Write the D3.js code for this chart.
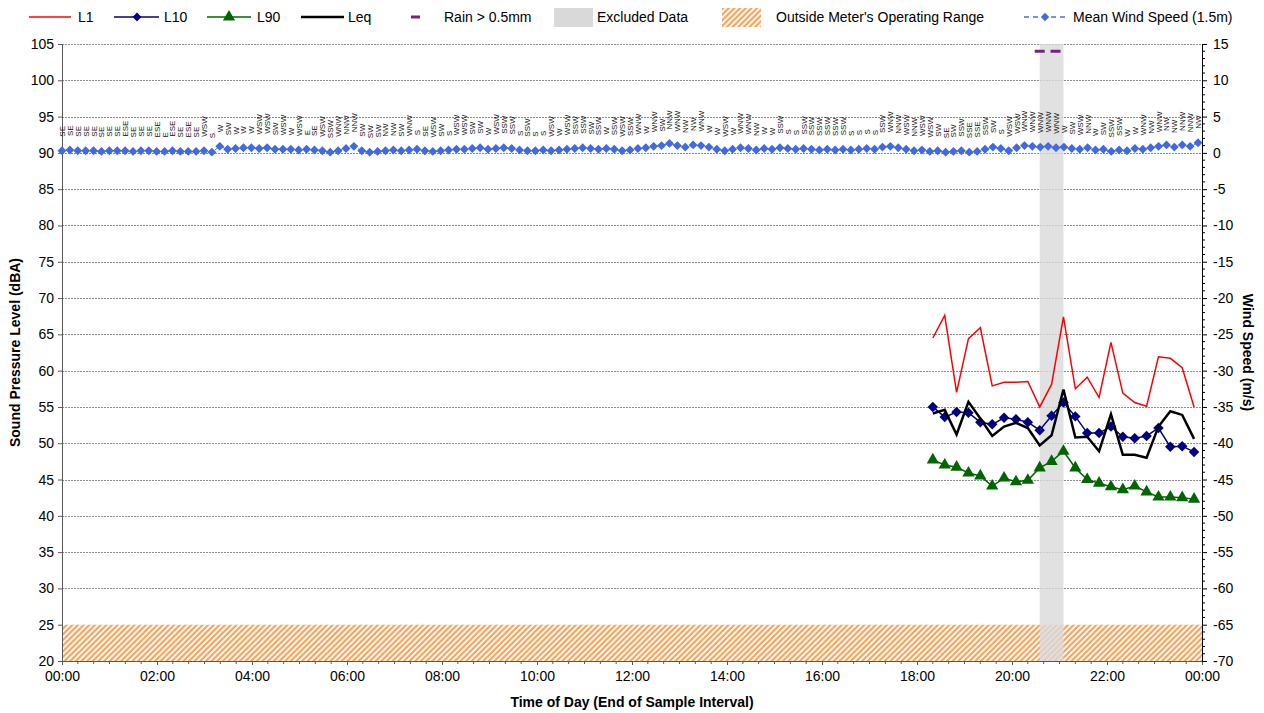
<!DOCTYPE html>
<html>
<head>
<meta charset="utf-8">
<script src="https://cdnjs.cloudflare.com/ajax/libs/d3/7.8.5/d3.min.js"></script>
<style>
  body { margin: 0; background: #fff; }
  svg { font-family: "Liberation Sans", Arial, sans-serif; }
  .tick text { font-size: 14px; fill: #000; }
</style>
</head>
<body>
<svg id="chart" width="1264" height="713"></svg>
<script>
// noise data, 15 min samples (end of interval)
var noiseTimes = ["18:20", "18:35", "18:50", "19:05", "19:20", "19:35", "19:50", "20:05",
    "20:20", "20:35", "20:50", "21:05", "21:20", "21:35", "21:50", "22:05", "22:20",
    "22:35", "22:50", "23:05", "23:20", "23:35", "23:50"];
var l1 = [64.5, 67.6, 57.0, 64.4, 65.9, 57.9, 58.4, 58.4, 58.5, 55.0, 58.1, 67.4,
    57.5, 59.1, 56.3, 63.9, 56.9, 55.6, 55.1, 61.9, 61.7, 60.4, 55.0];
var l10 = [55.0, 53.6, 54.3, 54.2, 52.9, 52.6, 53.5, 53.3, 52.9, 51.8, 53.8, 55.6,
    53.7, 51.4, 51.4, 52.3, 50.9, 50.7, 51.0, 52.1, 49.5, 49.6, 48.8];
var l90 = [47.7, 47.0, 46.7, 45.9, 45.5, 44.1, 45.2, 44.7, 44.9, 46.6, 47.5, 48.9,
    46.6, 45.0, 44.5, 44.0, 43.6, 44.1, 43.3, 42.6, 42.6, 42.5, 42.3];
var leq = [54.1, 54.6, 51.2, 55.7, 53.4, 51.0, 52.3, 52.8, 52.1, 49.7, 51.1, 57.4,
    50.8, 50.9, 48.9, 54.0, 48.4, 48.4, 48.0, 52.3, 54.4, 53.9, 50.6];

// wind, 10 min samples from 00:00 to 23:50
var windSpeed = [
    0.3, 0.4, 0.3, 0.3, 0.3, 0.2, 0.3, 0.3, 0.3, 0.2, 0.3, 0.3, 0.2, 0.2, 0.3, 0.2, 0.2, 0.2, 0.3, 0.1,
    0.9, 0.5, 0.6, 0.7, 0.7, 0.6, 0.7, 0.5, 0.5, 0.5, 0.4, 0.5, 0.4, 0.3, 0.1, 0.3, 0.6,
    0.9, 0.3, 0.1, 0.2, 0.3, 0.4, 0.3, 0.4, 0.5, 0.3, 0.2, 0.3, 0.4, 0.5,
    0.5, 0.6, 0.7, 0.5, 0.6, 0.7, 0.6, 0.4, 0.3, 0.3, 0.4, 0.3, 0.4, 0.5, 0.6, 0.7, 0.6, 0.5, 0.6, 0.5, 0.3,
    0.4, 0.6, 0.7, 0.9, 1.0, 1.3, 1.0, 0.8, 1.1, 1.0, 0.8, 0.5, 0.3, 0.5, 0.7, 0.6, 0.4, 0.6, 0.5,
    0.7, 0.6, 0.5, 0.6, 0.5, 0.4, 0.5, 0.4, 0.5, 0.4, 0.5, 0.6, 0.5, 0.8, 0.9, 0.7, 0.5, 0.3,
    0.4, 0.2, 0.3, 0.1, 0.2, 0.3, 0.1, 0.2, 0.5, 0.8, 0.6, 0.3, 0.7,
    1.0, 0.9, 0.8, 0.9, 0.7, 0.8, 0.6, 0.5, 0.7, 0.4, 0.5, 0.2, 0.4, 0.3, 0.6, 0.5, 0.7, 0.9, 1.1, 0.8, 1.1, 0.9, 1.4];
var windDir = [
    "SE", "SE", "SE", "SE", "SE", "SE", "SE", "SE", "ESE", "SE", "SE", "SE", "ESE", "E", "ESE", "SE", "ESE", "SE", "WSW", "S",
    "W", "SW", "W", "W", "W", "WSW", "WSW", "SW", "WSW", "W", "WSW", "E", "SE", "WSW", "SSW", "WNW", "NNW",
    "NNW", "SW", "SW", "SW", "NW", "NW", "SW", "WNW", "S", "SE", "WSW", "SW", "S", "WSW",
    "WSW", "SW", "SW", "W", "WSW", "SSW", "SSW", "S", "SSW", "S", "S", "WSW", "W", "WSW", "SSW", "SSW", "SW", "SSW", "W", "SSW", "WSW",
    "SSW", "WNW", "W", "WNW", "SW", "NNW", "WNW", "NW", "NW", "WNW", "W", "W", "WSW", "W", "WNW", "WNW", "NW", "W", "W",
    "SSW", "S", "S", "SSW", "SSW", "SSW", "SSW", "SSW", "SSW", "S", "S", "S", "S", "SSW", "WNW", "NNW", "WSW", "NNW",
    "WSW", "WSW", "SW", "SE", "SW", "SSW", "SSE", "SSE", "SSW", "SW", "S", "WSW", "WSW",
    "WNW", "WNW", "WNW", "WNW", "WNW", "W", "SW", "WSW", "NNW", "W", "SW", "SSW", "SSW", "W", "W", "WNW", "NW", "WNW", "NW", "NW", "NNW", "NNW", "NW"];

var rainTimes = ["20:35", "20:55"];
var rainLevel = 104;
var excluded = ["20:35", "21:05"];
var operatingFloor = 25;

var xTicks = ["00:00", "02:00", "04:00", "06:00", "08:00", "10:00", "12:00",
    "14:00", "16:00", "18:00", "20:00", "22:00", "00:00"];

function toMin(s) {
    var p = s.split(":");
    return +p[0] * 60 + +p[1];
}

var svg = d3.select("#chart");
var pLeft = 62, pRight = 1202, pTop = 44, pBottom = 661;

var x = d3.scaleLinear().domain([0, 1440]).range([pLeft, pRight]);
var y = d3.scaleLinear().domain([20, 105]).range([pBottom, pTop]);
var yw = d3.scaleLinear().domain([-70, 15]).range([pBottom, pTop]);

var defs = svg.append("defs");
var pat = defs.append("pattern")
    .attr("id", "hatch")
    .attr("patternUnits", "userSpaceOnUse")
    .attr("width", 4).attr("height", 4)
    .attr("patternTransform", "rotate(45)");
pat.append("rect").attr("width", 4).attr("height", 4).attr("fill", "#fff");
pat.append("rect").attr("width", 2.2).attr("height", 4).attr("fill", "#f7a45c");

// grid
svg.append("g").selectAll("line")
    .data(d3.range(25, 106, 5))
    .enter().append("line")
    .attr("x1", pLeft).attr("x2", pRight)
    .attr("y1", function (d) { return Math.round(y(d)) + 0.5; })
    .attr("y2", function (d) { return Math.round(y(d)) + 0.5; })
    .attr("stroke", "#8c8c8c")
    .attr("stroke-width", 1)
    .attr("stroke-dasharray", "2,1");

// outside operating range
svg.append("rect")
    .attr("x", pLeft).attr("y", y(operatingFloor))
    .attr("width", pRight - pLeft).attr("height", y(20) - y(operatingFloor))
    .attr("fill", "url(#hatch)");

// excluded data band
svg.append("rect")
    .attr("x", x(toMin(excluded[0])))
    .attr("y", pTop)
    .attr("width", x(toMin(excluded[1])) - x(toMin(excluded[0])))
    .attr("height", pBottom - pTop)
    .attr("fill", "#d9d9d9")
    .attr("opacity", 0.8);

// axes
var xAxis = d3.axisBottom(x)
    .tickValues(d3.range(0, 1441, 120))
    .tickFormat(function (d, i) { return xTicks[i]; })
    .tickSize(4).tickPadding(6);
var gx = svg.append("g").attr("transform", "translate(0," + pBottom + ")").call(xAxis);
gx.select(".domain").attr("stroke", "#595959");
gx.selectAll(".tick line").attr("stroke", "#595959");
svg.append("g").selectAll("line")
    .data(d3.range(0, 1441, 20).filter(function (d) { return d % 120 != 0; }))
    .enter().append("line")
    .attr("x1", function (d) { return x(d); })
    .attr("x2", function (d) { return x(d); })
    .attr("y1", pBottom).attr("y2", pBottom + 3)
    .attr("stroke", "#595959");

var gy = svg.append("g").attr("transform", "translate(" + pLeft + ",0)")
    .call(d3.axisLeft(y).tickValues(d3.range(20, 106, 5)).tickSize(4).tickPadding(4));
gy.select(".domain").attr("stroke", "#595959");
gy.selectAll(".tick line").attr("stroke", "#595959");

var gr = svg.append("g").attr("transform", "translate(" + pRight + ",0)")
    .call(d3.axisRight(yw).tickValues(d3.range(-70, 16, 5)).tickSize(5).tickPadding(6)
        .tickFormat(function (d) { return String(d); }));
gr.select(".domain").attr("stroke", "#000");
svg.append("g").selectAll("line")
    .data(d3.range(-70, 16, 1).filter(function (d) { return d % 5 != 0; }))
    .enter().append("line")
    .attr("x1", pRight).attr("x2", pRight + 3)
    .attr("y1", function (d) { return yw(d); })
    .attr("y2", function (d) { return yw(d); })
    .attr("stroke", "#000");

// axis titles
svg.append("text")
    .attr("transform", "translate(20," + ((pTop + pBottom) / 2) + ") rotate(-90)")
    .attr("text-anchor", "middle")
    .style("font-size", "14px").style("font-weight", "bold")
    .text("Sound Pressure Level (dBA)");
svg.append("text")
    .attr("transform", "translate(1243," + ((pTop + pBottom) / 2) + ") rotate(90)")
    .attr("text-anchor", "middle")
    .style("font-size", "14px").style("font-weight", "bold")
    .text("Wind Speed (m/s)");
svg.append("text")
    .attr("x", (pLeft + pRight) / 2).attr("y", 707)
    .attr("text-anchor", "middle")
    .style("font-size", "14px").style("font-weight", "bold")
    .text("Time of Day (End of Sample Interval)");

// wind: 145 samples spread across the plotted day
var wx = d3.scaleLinear().domain([0, windSpeed.length - 1]).range([x(0), x(1435)]);
var windPts = windSpeed.map(function (v, i) { return { px: wx(i), v: v, dir: windDir[i] }; });
svg.append("path")
    .datum(windPts)
    .attr("fill", "none").attr("stroke", "#4472e8").attr("stroke-width", 1)
    .attr("stroke-dasharray", "4,3")
    .attr("d", d3.line().x(function (d) { return d.px; }).y(function (d) { return yw(d.v); }));
var diamond = d3.symbol().type(d3.symbolDiamond2);
svg.append("g").selectAll("path")
    .data(windPts)
    .enter().append("path")
    .attr("d", diamond.size(50)())
    .attr("transform", function (d) { return "translate(" + d.px + "," + yw(d.v) + ")"; })
    .attr("fill", "#4169e1");
svg.append("g").selectAll("text")
    .data(windPts)
    .enter().append("text")
    .attr("transform", function (d) { return "translate(" + (d.px + 3) + "," + (yw(d.v) - 14) + ") rotate(-90)"; })
    .style("font-size", "8px")
    .style("fill", "#111")
    .text(function (d) { return d.dir; });

// rain
svg.append("g").selectAll("line")
    .data(rainTimes)
    .enter().append("line")
    .attr("x1", function (d) { return x(toMin(d)) - 5; })
    .attr("x2", function (d) { return x(toMin(d)) + 5; })
    .attr("y1", y(rainLevel)).attr("y2", y(rainLevel))
    .attr("stroke", "#7b1f86").attr("stroke-width", 3);

// noise series
var nt = noiseTimes.map(toMin);
function series(vals, color, width) {
    var pts = vals.map(function (v, i) { return [x(nt[i]), y(v)]; });
    svg.append("path")
        .datum(pts)
        .attr("fill", "none").attr("stroke", color).attr("stroke-width", width)
        .attr("stroke-linejoin", "miter")
        .attr("d", d3.line());
    return pts;
}
series(l1, "#ff0000", 1.5);
var p10 = series(l10, "#000080", 1.5);
svg.append("g").selectAll("path")
    .data(p10).enter().append("path")
    .attr("d", diamond.size(70)())
    .attr("transform", function (d) { return "translate(" + d[0] + "," + d[1] + ")"; })
    .attr("fill", "#000080");
var p90 = series(l90, "#006600", 1.5);
var tri = d3.symbol().type(d3.symbolTriangle).size(65);
svg.append("g").selectAll("path")
    .data(p90).enter().append("path")
    .attr("d", tri())
    .attr("transform", function (d) { return "translate(" + d[0] + "," + d[1] + ")"; })
    .attr("fill", "#006600");
series(leq, "#000", 2.5);

// legend
var ly = 17;
var lg = svg.append("g").style("font-size", "14px");
function legText(xp, s) {
    lg.append("text").attr("x", xp).attr("y", ly + 5).text(s);
}
function legLine(x1, x2, color, w, dash) {
    lg.append("line").attr("x1", x1).attr("x2", x2).attr("y1", ly).attr("y2", ly)
        .attr("stroke", color).attr("stroke-width", w).attr("stroke-dasharray", dash || null);
}
legLine(29, 71, "#ff0000", 1.5);
legText(78, "L1");
legLine(114, 159, "#000080", 1.5);
lg.append("path").attr("d", diamond.size(50)()).attr("transform", "translate(137," + ly + ")").attr("fill", "#000080");
legText(164, "L10");
legLine(207, 251, "#006600", 1.5);
lg.append("path").attr("d", tri()).attr("transform", "translate(229," + ly + ")").attr("fill", "#006600");
legText(257, "L90");
legLine(301, 344, "#000", 2.5);
legText(348, "Leq");
lg.append("line").attr("x1", 411).attr("x2", 420).attr("y1", ly).attr("y2", ly)
    .attr("stroke", "#7b1f86").attr("stroke-width", 3);
legText(444, "Rain > 0.5mm");
lg.append("rect").attr("x", 554).attr("y", 8).attr("width", 39).attr("height", 19).attr("fill", "#d9d9d9");
legText(597, "Excluded Data");
lg.append("rect").attr("x", 722).attr("y", 8).attr("width", 39).attr("height", 19).attr("fill", "url(#hatch)");
legText(776, "Outside Meter's Operating Range");
legLine(1024, 1066, "#4472e8", 1.5, "5,4");
lg.append("path").attr("d", diamond.size(45)()).attr("transform", "translate(1045," + ly + ")").attr("fill", "#4169e1");
legText(1073, "Mean Wind Speed (1.5m)");
</script>
</body>
</html>
